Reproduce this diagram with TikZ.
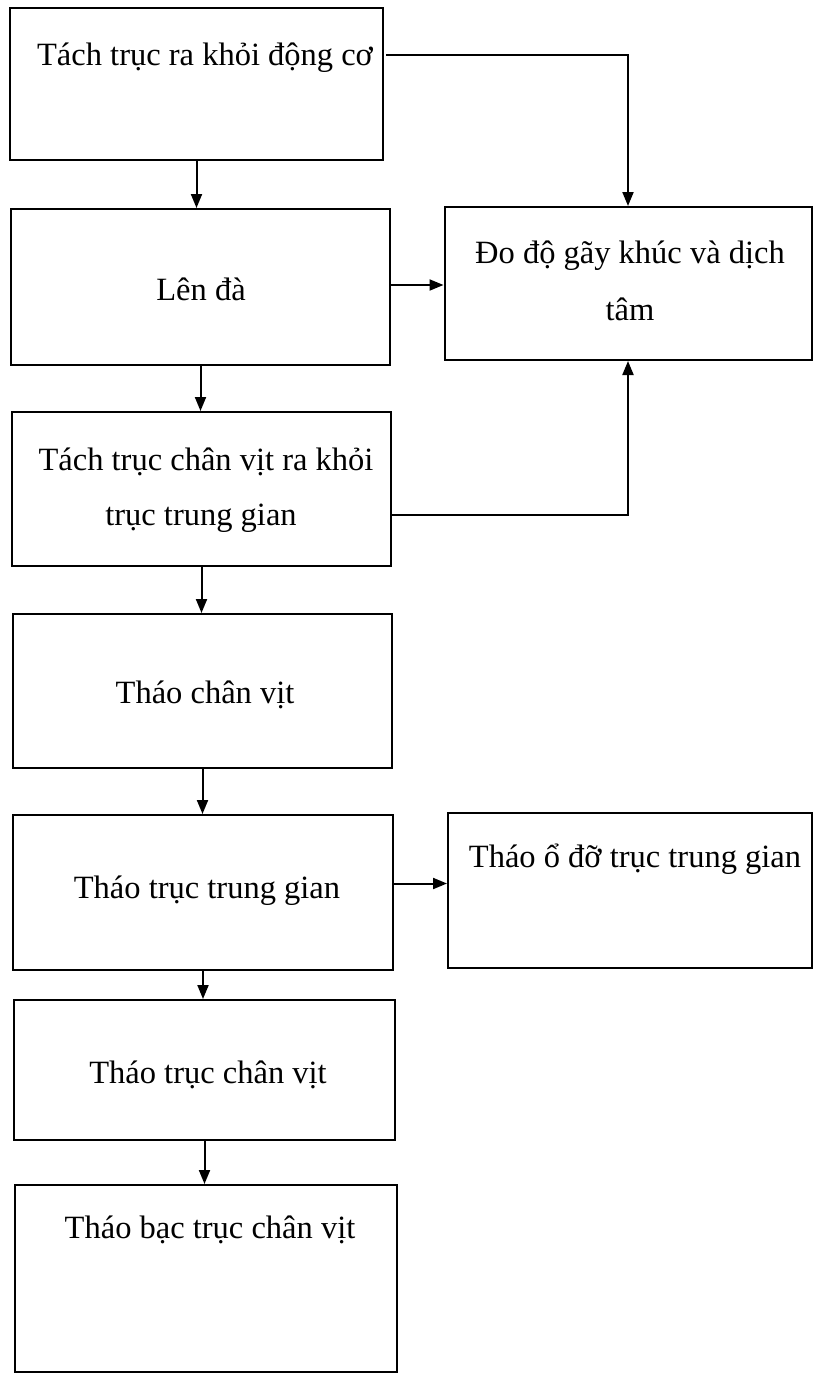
\documentclass[tikz,border=0pt]{standalone}
\usepackage{fontspec}
\setmainfont{Liberation Serif}
\usetikzlibrary{arrows.meta}
\begin{document}
\begin{tikzpicture}[x=1pt,y=-1pt,
  box/.style={draw, line width=2pt, inner sep=0pt, rectangle},
  lbl/.style={inner sep=0pt, font=\fontsize{32.5}{38}\selectfont, text height=0.7em, text depth=0.25em, anchor=center},
  arr/.style={line width=2pt, -{Triangle[length=14pt,width=11pt]}}]
\useasboundingbox (0,0) rectangle (814,1373);
% boxes
\node[box, minimum width=373pt, minimum height=152pt] (b1) at (196.5,84) {};
\node[box, minimum width=379pt, minimum height=156pt] (b2) at (200.5,287) {};
\node[box, minimum width=367pt, minimum height=153pt] (bD) at (628,283.5) {};
\node[box, minimum width=379pt, minimum height=154pt] (b3) at (201.5,489) {};
\node[box, minimum width=379pt, minimum height=154pt] (b4) at (202.5,691) {};
\node[box, minimum width=380pt, minimum height=155pt] (b5) at (203,892.5) {};
\node[box, minimum width=364pt, minimum height=155pt] (bO) at (630,890.5) {};
\node[box, minimum width=381pt, minimum height=140pt] (b6) at (204.5,1070) {};
\node[box, minimum width=382pt, minimum height=187pt] (b7) at (206,1278.5) {};
% texts
\node[lbl] (t1) at (205,63) {Tách trục ra khỏi động cơ};
\node[lbl] (t2) at (201,298) {Lên đà};
\node[lbl] (tD1) at (630,261) {Đo độ gãy khúc và dịch};
\node[lbl] (tD2) at (630,318) {tâm};
\node[lbl] (t3a) at (206,468) {Tách trục chân vịt ra khỏi};
\node[lbl] (t3b) at (201,523) {trục trung gian};
\node[lbl] (t4) at (205,701) {Tháo chân vịt};
\node[lbl] (t5) at (207,896) {Tháo trục trung gian};
\node[lbl] (tO) at (635,865) {Tháo ổ đỡ trục trung gian};
\node[lbl] (t6) at (208,1081) {Tháo trục chân vịt};
\node[lbl] (t7) at (210,1236) {Tháo bạc trục chân vịt};
% connectors
\draw[arr] (b1.south) -- (b1.south |- b2.north);
\draw[arr] ([xshift=2pt,yshift=8pt]b1.east |- t1) -| (bD.north);
\draw[arr] ([yshift=2pt]b2.east) -- ([yshift=2pt]b2.east -| bD.west);
\draw[arr] (b2.south) -- (b2.south |- b3.north);
\draw[arr] ([yshift=8pt]t3b -| b3.east) -| (bD.south);
\draw[arr] (b3.south) -- (b3.south |- b4.north);
\draw[arr] (b4.south) -- (b4.south |- b5.north);
\draw[arr] ([yshift=9pt]b5.east) -- ([yshift=9pt]b5.east -| bO.west);
\draw[arr] (b5.south) -- (b5.south |- b6.north);
\draw[arr] (b6.south) -- (b6.south |- b7.north);
\end{tikzpicture}
\end{document}
